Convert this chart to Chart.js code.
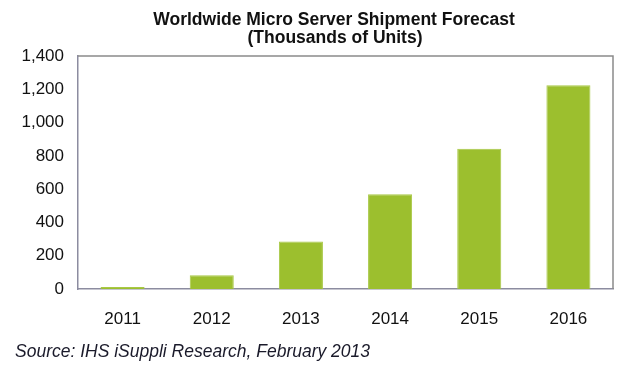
<!DOCTYPE html>
<html>
<head>
<meta charset="utf-8">
<script src="https://cdn.jsdelivr.net/npm/chart.js@4"></script>
<style>
html,body{margin:0;padding:0;background:#fff;}
#wrap{width:640px;height:374px;position:relative;}
</style>
</head>
<body>
<div id="wrap"><canvas id="c" width="640" height="374"></canvas></div>
<script>
const categories = ["2011","2012","2013","2014","2015","2016"];
const shipments = [12, 82, 285, 569, 843, 1224];
const yTicks = [0, 200, 400, 600, 800, 1000, 1200, 1400];
const titleLines = ["Worldwide Micro Server Shipment Forecast", "(Thousands of Units)"];
const sourceText = "Source: IHS iSuppli Research, February 2013";

const textPlugin = {
  id: 'texts',
  afterDraw(chart) {
    const ctx = chart.ctx;
    const a = chart.chartArea;
    ctx.save();
    ctx.strokeStyle = '#8a8a8a';
    ctx.lineWidth = 1.5;
    ctx.beginPath();
    ctx.moveTo(a.left, a.top);
    ctx.lineTo(a.right, a.top);
    ctx.lineTo(a.right, a.bottom);
    ctx.stroke();
    ctx.fillStyle = '#111';
    ctx.textAlign = 'center';
    ctx.textBaseline = 'alphabetic';
    ctx.font = 'bold 17.5px "Liberation Sans Narrow", "Arial Narrow", "Liberation Sans", Arial, sans-serif';
    ctx.fillText(titleLines[0], 334, 25);
    ctx.fillText(titleLines[1], 335, 43);
    ctx.textAlign = 'left';
    ctx.font = 'italic 17.5px "Liberation Sans", Arial, sans-serif';
    ctx.fillStyle = '#1a1a2a';
    ctx.fillText(sourceText, 15, 357);
    ctx.restore();
  }
};

new Chart(document.getElementById('c'), {
  type: 'bar',
  data: {
    labels: categories,
    datasets: [{
      data: shipments,
      backgroundColor: '#9cbf2e',
      borderColor: '#a8c845',
      borderWidth: 1,
      categoryPercentage: 1.0,
      barPercentage: 0.494
    }]
  },
  options: {
    responsive: false,
    animation: false,
    layout: { padding: { left: 0, right: 27, top: 56, bottom: 0 } },
    plugins: { legend: { display: false }, title: { display: false }, tooltip: { enabled: false } },
    scales: {
      x: {
        grid: { display: false },
        border: { display: true, color: '#8c8ca0', width: 1.5 },
        ticks: { color: '#111', font: { family: '"Liberation Sans", Arial, sans-serif', size: 17 }, padding: 12 },
        afterFit(scale) { scale.height = 85; }
      },
      y: {
        min: 0, max: 1400,
        afterBuildTicks(scale) { scale.ticks = yTicks.map(v => ({ value: v })); },
        grid: { display: false },
        border: { display: true, color: '#8c8ca0', width: 1.5 },
        ticks: {
          color: '#111',
          font: { family: '"Liberation Sans", Arial, sans-serif', size: 17 },
          padding: 6,
          callback: v => v.toLocaleString('en-US')
        },
        afterFit(scale) { scale.width = 78; }
      }
    }
  },
  plugins: [textPlugin]
});
</script>
</body>
</html>
